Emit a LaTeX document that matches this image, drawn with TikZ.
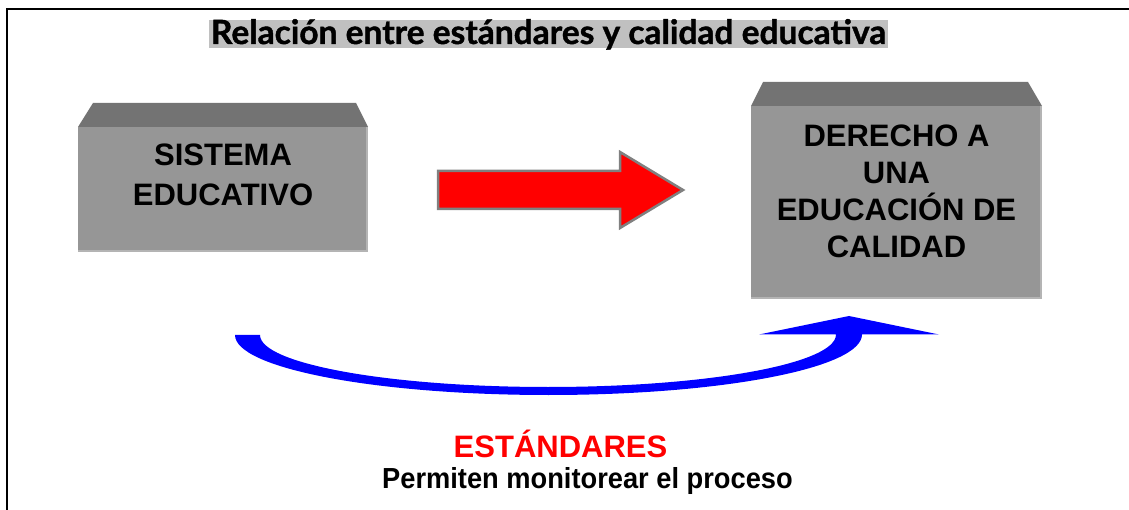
\documentclass[tikz,border=0pt]{standalone}
\usepackage{fontspec}
\setmainfont{Liberation Sans}
\newfontfamily\titlefont{Lato}[BoldFeatures={FakeBold=1.2}]
\usepackage{graphicx}
\definecolor{frontgray}{RGB}{150,150,150}
\definecolor{topgray}{RGB}{115,115,115}
\definecolor{edgegray}{RGB}{180,180,180}
\definecolor{hlgray}{RGB}{192,192,192}
\definecolor{outlinegray}{RGB}{128,128,128}
\definecolor{arrowblue}{RGB}{0,0,255}
\tikzset{
  boxfront/.style={fill=frontgray, draw=none, inner sep=0pt},
  boxtop/.style={fill=topgray},
  boxedge/.style={draw=edgegray, line width=2pt},
  boxtext/.style={inner sep=0pt, align=center, font=\bfseries},
  plaintext/.style={inner sep=0pt, font=\bfseries}
}
\begin{document}
\begin{tikzpicture}[x=1pt,y=-1pt]
\useasboundingbox (0,0) rectangle (1129,510);
\fill[white] (0,0) rectangle (1129,510);
% frame
\draw[line width=2pt] (7,510) -- (7,9) -- (1129,9);
% title
\fill[hlgray] (209,20) rectangle (888,48);
\node[inner sep=0pt, anchor=base] (title) at (548.5,44)
  {\resizebox{675pt}{!}{\titlefont\bfseries Relación entre estándares y calidad educativa}};
% box 1
\fill[boxtop] (78,127) -- (93,103) -- (356,103) -- (368,127) -- cycle;
\node[boxfront, minimum width=290pt, minimum height=125pt] (sis) at (223,189.5) {};
\draw[boxedge] (366.5,127) -- (366.5,251) -- (78,251);
\node[boxtext, anchor=base, font=\fontsize{31}{40}\selectfont\bfseries] (sistxt) at (223,206) {SISTEMA\\EDUCATIVO};
% box 2
\fill[boxtop] (751,106) -- (763,82) -- (1028,82) -- (1042,106) -- cycle;
\node[boxfront, minimum width=291pt, minimum height=193pt] (der) at (896.5,202.5) {};
\draw[boxedge] (1040.5,106) -- (1040.5,298) -- (751,298);
\node[boxtext, anchor=base, font=\fontsize{31}{37}\selectfont\bfseries] (dertxt) at (896.5,258) {DERECHO A\\UNA\\EDUCACIÓN DE\\CALIDAD};
% red block arrow
\filldraw[fill=red, draw=outlinegray, line width=2.5pt, line join=miter]
  (438,171) -- (620,171) -- (620,152) -- (683,190) -- (620,228) -- (620,209) -- (438,209) -- cycle;
% blue curved arrow
\fill[arrowblue]
  (235,335) .. controls (235,368.1) and (375.4,395) .. (548.5,395)
  .. controls (721.6,395) and (862,368.1) .. (862,334.5)
  -- (939,334.5) -- (849,316) -- (759,334.5) -- (836,334.5)
  .. controls (836,363.7) and (707.1,387) .. (548,387)
  .. controls (388.9,387) and (260,363.7) .. (260,335) -- cycle;
% bottom texts
\node[plaintext, anchor=base, text=red, font=\fontsize{31}{31}\selectfont\bfseries] (est) at (560.5,457) {ESTÁNDARES};
\node[plaintext, anchor=base, font=\fontsize{29}{29}\selectfont\bfseries] (perm) at (587.5,488) {\scalebox{0.94}[1]{Permiten monitorear el proceso}};
\end{tikzpicture}
\end{document}
